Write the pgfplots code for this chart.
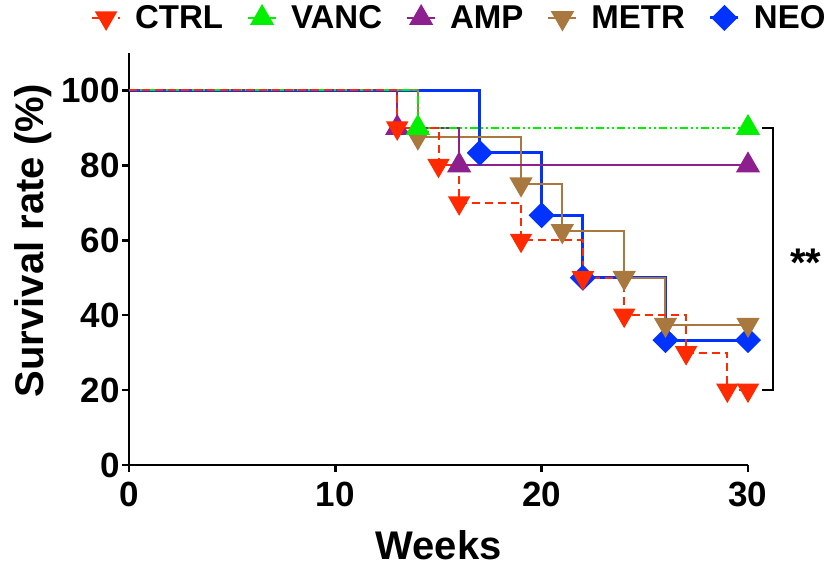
\documentclass[border=0pt]{standalone}
\usepackage{fontspec}
\setmainfont{Liberation Sans}
\usepackage{pgfplots}
\pgfplotsset{compat=1.18}
\definecolor{cred}{HTML}{FF2A00}
\definecolor{cgreen}{HTML}{00F000}
\definecolor{cpurple}{HTML}{8E1F8E}
\definecolor{cbrown}{HTML}{A8783F}
\definecolor{cblue}{HTML}{0033FF}
\pgfplotsset{
  sCTRL/.style={color=cred, line width=2bp, dash pattern=on 8bp off 5bp, mark=triangle*, mark size=11bp, mark options={solid, rotate=180}},
  sVANC/.style={color=cgreen, line width=2bp, dash pattern=on 8bp off 3bp on 2bp off 3bp on 2bp off 3bp, mark=triangle*, mark size=12bp, mark options={solid}},
  sAMP/.style={color=cpurple, line width=2bp, mark=triangle*, mark size=12bp, mark options={solid}},
  sMETR/.style={color=cbrown, line width=2bp, mark=triangle*, mark size=11.5bp, mark options={solid, rotate=180}},
  sNEO/.style={color=cblue, line width=3bp, mark=square*, mark size=7.7bp, mark options={solid, rotate=45}},
}
\begin{document}
\begin{tikzpicture}
\path[use as bounding box] (-129bp,-102bp) rectangle (698bp,465bp);
\begin{axis}[
  at={(0,0)}, anchor=south west,
  scale only axis, width=619bp, height=412bp,
  xmin=0, xmax=30, ymin=0, ymax=110,
  axis lines=left, axis line style={-, line width=2.5bp},
  xtick={0,10,20,30}, ytick={0,20,40,60,80,100},
  tick align=outside, major tick length=7bp,
  every tick/.style={line width=2.5bp, black},
  /pgf/number format/assume math mode=true,
  tick label style={font=\bfseries\fontsize{35bp}{35bp}\selectfont, inner sep=0bp},
  yticklabel style={xshift=-2bp},
  xticklabel style={yshift=-10bp},
  xlabel={Weeks}, ylabel={Survival rate (\%)},
  label style={font=\bfseries\fontsize{40bp}{40bp}\selectfont, inner sep=0bp},
  xlabel style={at={(axis description cs:0.5,0)}, anchor=center, yshift=-80bp},
  ylabel style={at={(axis description cs:-0.155,0.545)}, anchor=center},
  clip=false,
  const plot mark left,
  legend columns=5,
  legend image code/.code={\draw[mark repeat=2,mark phase=2,#1] plot coordinates {(0bp,0bp) (14bp,0bp) (28bp,0bp)};},
  legend style={draw=none, fill=none, at={(axis description cs:0.532,1.085)}, anchor=center,
    font=\bfseries\fontsize{33bp}{33bp}\selectfont, nodes={inner sep=0bp},
    /tikz/every odd column/.append style={column sep=14bp},
    /tikz/every even column/.append style={column sep=24bp}},
]
\addlegendimage{sCTRL}\addlegendentry{CTRL}
\addlegendimage{sVANC}\addlegendentry{VANC}
\addlegendimage{sAMP}\addlegendentry{AMP}
\addlegendimage{sMETR}\addlegendentry{METR}
\addlegendimage{sNEO}\addlegendentry{NEO}
% NEO
\addplot[sNEO, mark indices={2,3,4,5,6}, forget plot] coordinates {
  (0,100) (17,83.33) (20,66.67) (22,50) (26,33.33) (30,33.33)};
% METR
\addplot[sMETR, mark indices={2,3,4,5,6,7}, forget plot] coordinates {
  (0,100) (14,87.5) (19,75) (21,62.5) (24,50) (26,37.5) (30,37.5)};
% AMP
\addplot[sAMP, mark indices={2,3,4}, forget plot] coordinates {
  (0,100) (13,90) (16,80) (30,80)};
% VANC
\addplot[sVANC, mark indices={2,3}, forget plot] coordinates {
  (0,100) (14,90) (30,90)};
% CTRL
\addplot[sCTRL, mark indices={2,3,4,5,6,7,8,9,10}, forget plot] coordinates {
  (0,100) (13,90) (15,80) (16,70) (19,60) (22,50) (24,40) (27,30) (29,20) (30,20)};
% significance bracket
\draw[line width=2.5bp] (axis cs:30.68,90) -- (axis cs:31.21,90) -- (axis cs:31.21,20) -- (axis cs:30.68,20);
\node[font=\bfseries\fontsize{40bp}{40bp}\selectfont, inner sep=0bp] at (axis cs:32.8,54) {**};
\end{axis}
\end{tikzpicture}
\end{document}
